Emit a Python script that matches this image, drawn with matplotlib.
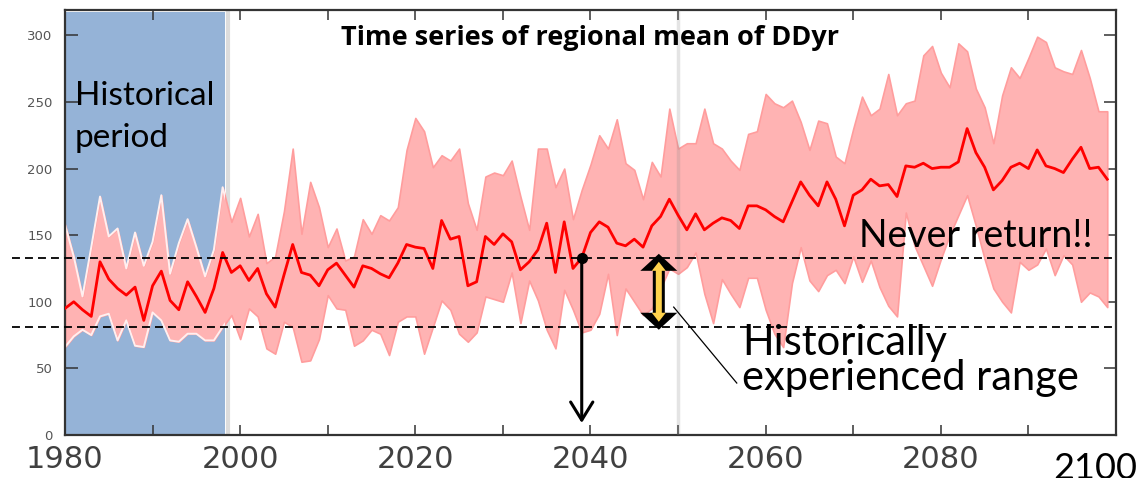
import matplotlib
matplotlib.use("Agg")
import matplotlib.pyplot as plt
import numpy as np
from matplotlib.patches import Polygon

# regional mean of DDyr, 1980-2099: ensemble mean and spread
years = np.arange(1980, 2100)

ens_mean = [
    95, 100, 94, 89, 130, 117, 110, 105, 111, 86, 112, 123, 101, 94, 115, 104, 92, 110, 137, 122,
    127, 116, 125, 106, 96, 120, 143, 122, 120, 112, 124, 129, 120, 111, 127, 125, 121, 118, 129, 143,
    141, 140, 125, 161, 147, 149, 112, 115, 149, 143, 151, 145, 124, 130, 139, 159, 122, 160, 125, 133,
    152, 160, 156, 144, 142, 147, 141, 157, 164, 177, 165, 154, 166, 154, 159, 163, 161, 155, 172, 172,
    169, 164, 160, 175, 190, 180, 172, 190, 177, 157, 180, 184, 192, 187, 188, 179, 202, 201, 204, 200,
    201, 201, 205, 230, 212, 201, 184, 191, 201, 204, 200, 214, 202, 200, 197, 207, 216, 200, 201, 192,
]
ens_max = [
    158, 134, 104, 141, 179, 149, 155, 125, 152, 127, 145, 180, 121, 144, 162, 141, 119, 139, 186, 160,
    178, 149, 166, 129, 134, 168, 215, 151, 190, 171, 141, 155, 131, 134, 162, 151, 165, 161, 171, 214,
    238, 228, 201, 210, 206, 215, 174, 154, 194, 197, 195, 206, 179, 154, 215, 215, 186, 200, 162, 184,
    203, 225, 215, 237, 204, 199, 177, 205, 194, 245, 215, 219, 219, 245, 219, 215, 206, 199, 226, 228,
    256, 249, 246, 251, 235, 214, 236, 234, 209, 204, 230, 254, 240, 245, 271, 240, 249, 251, 285, 292,
    272, 261, 294, 288, 260, 246, 219, 255, 276, 268, 283, 299, 295, 276, 273, 271, 289, 268, 243, 243,
]
ens_min = [
    66, 74, 79, 75, 89, 91, 71, 86, 67, 66, 92, 86, 71, 70, 76, 76, 71, 71, 81, 90,
    72, 95, 89, 65, 61, 85, 81, 55, 56, 72, 105, 95, 94, 67, 71, 79, 76, 60, 85, 89,
    89, 61, 81, 101, 94, 76, 70, 77, 104, 102, 100, 122, 84, 116, 101, 79, 65, 109, 94, 77,
    79, 91, 121, 75, 110, 100, 90, 95, 110, 125, 121, 126, 137, 106, 84, 117, 106, 96, 118, 118,
    94, 76, 66, 114, 141, 116, 108, 120, 124, 114, 134, 115, 131, 111, 97, 89, 167, 142, 127, 112,
    132, 150, 165, 180, 157, 132, 110, 100, 92, 130, 124, 128, 140, 120, 135, 128, 100, 107, 104, 96,
]

hist_range = [81, 133]      # historically experienced range of the mean
hist_end = 1998.3
marked_year = 2039          # first year the mean leaves the historical range for good

xtick_labels = {1980: "1980", 2000: "2000", 2020: "2020", 2040: "2040", 2060: "2060", 2080: "2080"}

plt.rcParams["font.family"] = ["Lato", "DejaVu Sans"]

fig = plt.figure(figsize=(11.36, 4.78), dpi=100)
ax = fig.add_axes([0.0572, 0.090, 0.9252, 0.889])
ax.set_xlim(1980, 2100)
ax.set_ylim(0, 319)

# historical period box
span = ax.axvspan(1980, hist_end, ymin=0, ymax=0.995, color="#95b3d7", lw=0, zorder=0)
ax.axvline(1998.6, color="#dcdcdc", lw=3, zorder=0.5)

ax.fill_between(years, ens_min, ens_max, facecolor="#ffb3b3", edgecolor="#ff9d9d",
                lw=1.2, zorder=2)
for edge in (ens_min, ens_max):
    ln, = ax.plot(years, edge, color="#fff0f0", lw=1.4, zorder=2.5)
    ln.set_clip_path(span)
ax.plot(years, ens_mean, color="#ff0000", lw=2.0, zorder=4)
ax.axvline(2050, color="#888888", alpha=0.22, lw=2.5, zorder=3)

for level in hist_range:
    ax.axhline(level, xmin=-0.05, xmax=1.0, color="k", lw=1.3, ls=(0, (4.4, 2.8)),
               clip_on=False, zorder=5)

# mean leaving the historical range, then never coming back
i = list(years).index(marked_year)
ax.plot(marked_year, ens_mean[i], "o", color="k", ms=7, zorder=7)
ax.annotate("", xy=(marked_year, 9), xytext=(marked_year, ens_mean[i]),
            arrowprops=dict(arrowstyle="->,head_length=0.65,head_width=0.4", lw=2.2,
                            color="k", mutation_scale=20, shrinkA=0, shrinkB=0), zorder=7)


def double_arrow(x, y_top, y_bot, head_w, head_l, body_w, color):
    # vertical two-headed block arrow, sizes in pixels
    to_px = ax.transData.transform
    cx, ty = to_px((x, y_top))
    _, by = to_px((x, y_bot))
    pts = [(cx, ty), (cx + head_w, ty - head_l), (cx + body_w, ty - head_l),
           (cx + body_w, by + head_l), (cx + head_w, by + head_l), (cx, by),
           (cx - head_w, by + head_l), (cx - body_w, by + head_l),
           (cx - body_w, ty - head_l), (cx - head_w, ty - head_l)]
    pts = ax.transData.inverted().transform(pts)
    ax.add_patch(Polygon(pts, closed=True, facecolor=color, edgecolor="none", zorder=8))


double_arrow(2047.8, 136, 79, 18.5, 17, 6, "k")
double_arrow(2047.8, 130, 85, 7, 9, 3, "#ffd24d")
ax.plot([2049.5, 2056.7], [96, 39], color="k", lw=0.9, zorder=8)

# axes styling
ax.set_xticks(np.arange(1980, 2101, 10))
ax.set_xticklabels([xtick_labels.get(int(t), "") for t in np.arange(1980, 2101, 10)])
ax.set_yticks(np.arange(0, 301, 50))
ax.tick_params(axis="x", direction="in", top=True, length=7, width=1.1, color="#333333",
               labelsize=22, labelcolor="#404040", pad=7.5)
ax.tick_params(axis="y", direction="in", right=True, length=9, width=1.1, color="#333333",
               labelsize=9.5, labelcolor="#555555", pad=9)
for lab in ax.get_xticklabels():
    lab.set_fontfamily("DejaVu Sans")
for lab in ax.get_yticklabels():
    lab.set_fontfamily("DejaVu Sans")
for sp in ax.spines.values():
    sp.set_color("#333333")
    sp.set_linewidth(1.6)

ax.text(0.5, 0.918, "Time series of regional mean of DDyr", transform=ax.transAxes,
        ha="center", va="baseline", fontsize=19.5, fontweight="bold", color="k",
        family=["Open Sans", "DejaVu Sans"])
ax.text(1981.1, 248, "Historical", fontsize=24, va="baseline", zorder=9)
ax.text(1981.1, 216, "period", fontsize=24, va="baseline", zorder=9)
ax.text(2070.7, 141, "Never return!!", fontsize=27, va="baseline", zorder=9)
ax.text(2057.3, 60, "Historically", fontsize=30, va="baseline", zorder=9)
ax.text(2057.3, 34, "experienced range", fontsize=30, va="baseline", zorder=9)
fig.text(1053 / 1136, -1 / 478, "2100", fontsize=26, va="baseline", color="k")

fig.savefig("out.png", dpi=100)
